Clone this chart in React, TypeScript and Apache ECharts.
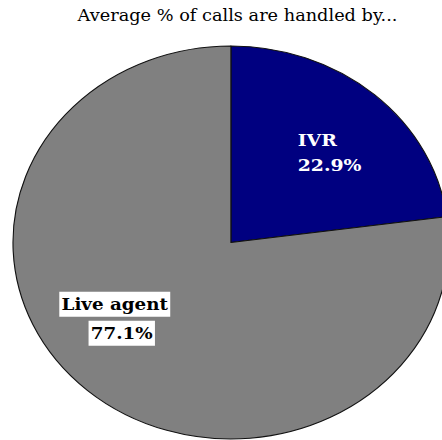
import React, { useEffect, useRef } from 'react';
import * as echarts from 'echarts';

const categories = ['IVR', 'Live agent'];
const values = [22.9, 77.1];
const colors = ['#000080', '#808080'];
const titleText = 'Average % of calls are handled by...';

// the original pie is a circle stretched horizontally into an ellipse
const SX = 1.109;
const W = 442 / SX;
const H = 440;

export default function App() {
  const ref = useRef<HTMLDivElement>(null);
  useEffect(() => {
    const chart = echarts.init(ref.current!, null, { renderer: 'svg' });
    const serif = 'DejaVu Serif';
    chart.setOption({
      animation: false,
      title: {
        text: titleText,
        left: 209.2,
        textAlign: 'center',
        top: 2,
        textStyle: { fontFamily: serif, fontSize: 16, fontWeight: 'normal', color: '#000' },
      },
      series: [
        {
          type: 'pie',
          center: [208.2, 242.5],
          radius: 196.5,
          startAngle: 90,
          clockwise: true,
          itemStyle: { borderColor: '#111', borderWidth: 1 },
          emphasis: { disabled: true },
          labelLine: { show: false },
          data: categories.map((name, i) => ({
            name,
            value: values[i],
            itemStyle: { color: colors[i] },
            label:
              i === 0
                ? {
                    show: true,
                    position: 'inside',
                    offset: [22.3, -14],
                    formatter: '{w|{b}}\n{w|{c}%}',
                    rich: {
                      w: {
                        fontFamily: serif,
                        fontSize: 17,
                        fontWeight: 'bold',
                        color: '#fff',
                        lineHeight: 25,
                        align: 'left',
                      },
                    },
                  }
                : {
                    show: true,
                    position: 'inside',
                    align: 'center',
                    offset: [-38, 0],
                    formatter: '{k|{b}}\n{s| }{k|{c}%}',
                    rich: {
                      k: {
                        fontFamily: serif,
                        fontSize: 16.5,
                        fontWeight: 'bold',
                        color: '#000',
                        backgroundColor: '#fff',
                        padding: [4, 2, 4, 2],
                        lineHeight: 29,
                      },
                      s: { width: 12.6, fontSize: 16.5, lineHeight: 29 },
                    },
                  },
          })),
        },
      ],
    });
    return () => chart.dispose();
  }, []);
  return (
    <div
      style={{
        position: 'fixed',
        left: 0,
        top: 0,
        width: 442,
        height: H,
        overflow: 'hidden',
        background: '#fff',
      }}
    >
      <div
        ref={ref}
        style={{
          width: W,
          height: H,
          transform: `scaleX(${SX})`,
          transformOrigin: '0 0',
        }}
      />
    </div>
  );
}
